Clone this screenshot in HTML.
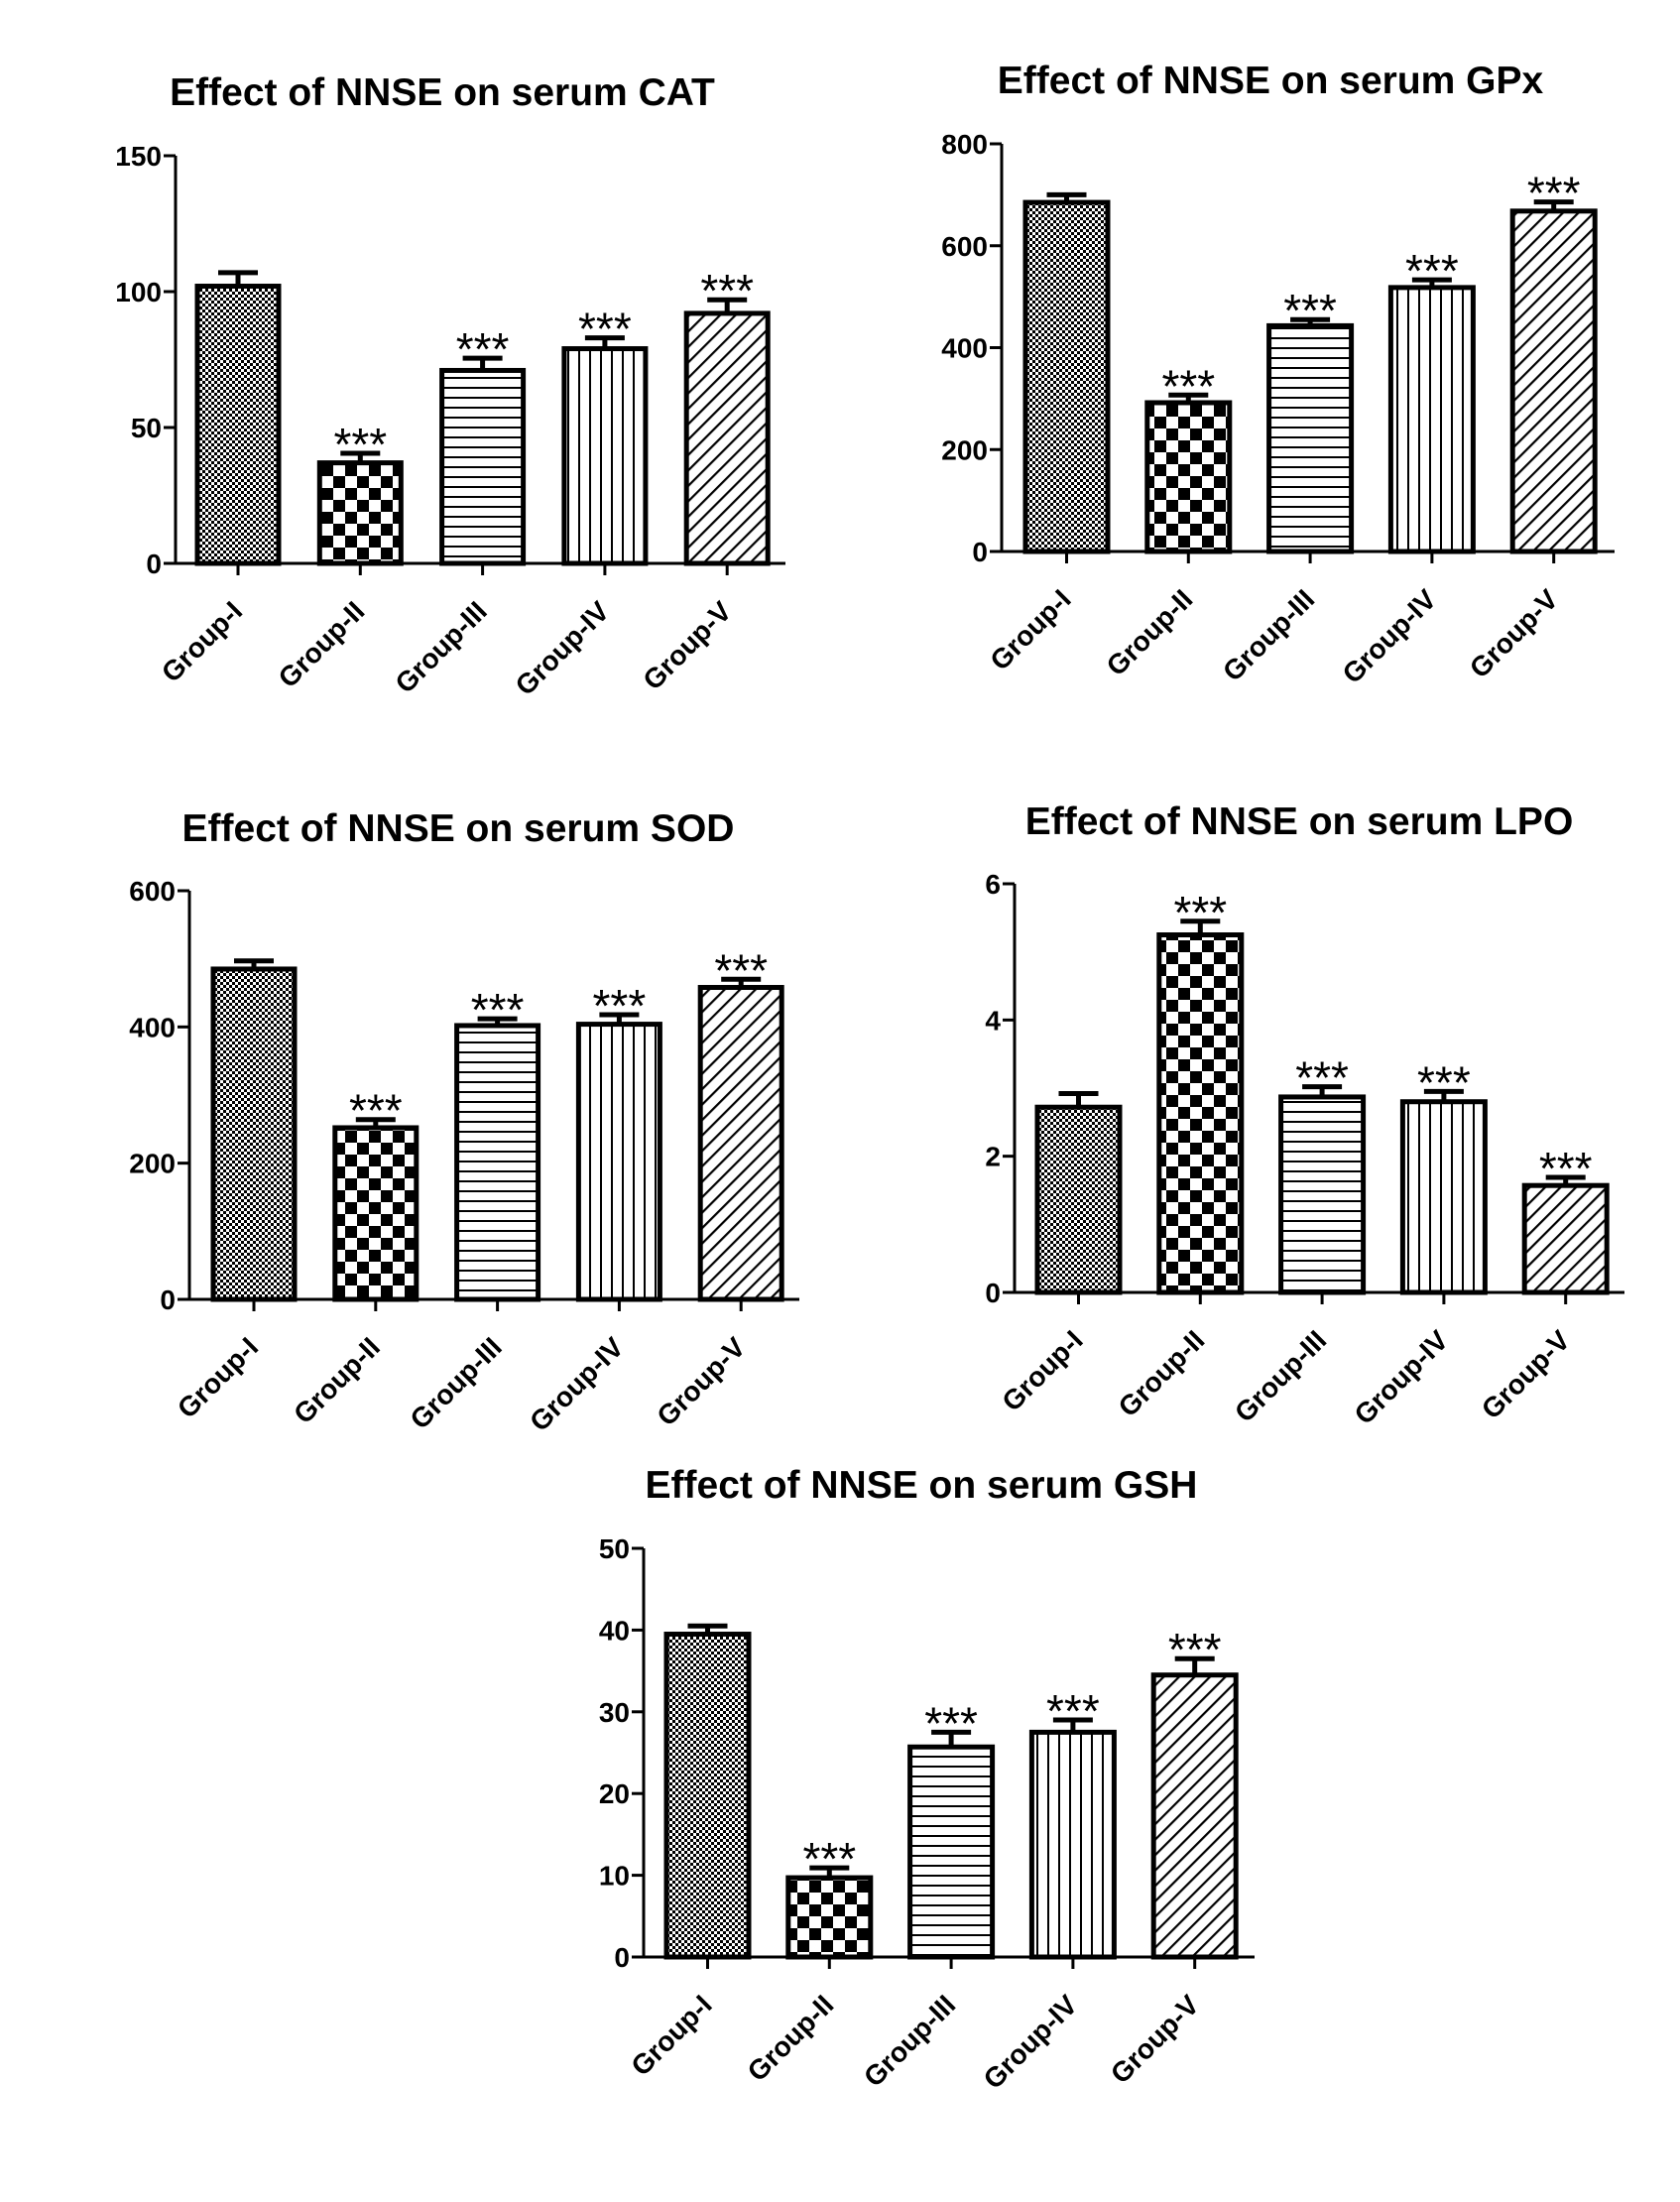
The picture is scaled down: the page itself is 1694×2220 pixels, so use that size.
<!DOCTYPE html>
<html><head><meta charset="utf-8"><style>
html,body{margin:0;padding:0;background:#fff;}
svg{display:block;font-family:"Liberation Sans",Arial,sans-serif;}
</style></head><body>
<svg id="fig" width="1694" height="2220" viewBox="0 0 1694 2220" xmlns="http://www.w3.org/2000/svg">
<defs>
<pattern id="p1" width="6" height="6" patternUnits="userSpaceOnUse"><rect width="6" height="6" fill="#fff"/><rect width="3" height="3" fill="#000"/><rect x="3" y="3" width="3" height="3" fill="#000"/></pattern>
<pattern id="p2" width="24" height="24" patternUnits="userSpaceOnUse"><rect width="24" height="24" fill="#fff"/><rect width="12" height="12" fill="#000"/><rect x="12" y="12" width="12" height="12" fill="#000"/></pattern>
<pattern id="p3" width="10" height="10" patternUnits="userSpaceOnUse"><rect width="10" height="10" fill="#fff"/><rect y="0" width="10" height="2" fill="#000"/></pattern>
<pattern id="p4" width="11" height="10" patternUnits="userSpaceOnUse"><rect width="11" height="10" fill="#fff"/><rect x="0" width="2" height="10" fill="#000"/></pattern>
<pattern id="p5" width="11" height="11" patternUnits="userSpaceOnUse" patternTransform="rotate(45)"><rect width="11" height="11" fill="#fff"/><rect width="2.2" height="11" fill="#000"/></pattern>
</defs>
</svg>
<script>
const categories = ["Group-I","Group-II","Group-III","Group-IV","Group-V"];
const catValues = [102, 37, 71, 79, 92];
const catErrors = [5, 3.5, 4.5, 4, 5];
const catTicks = [0, 50, 100, 150];
const gpxValues = [685, 292, 443, 518, 668];
const gpxErrors = [15, 15, 12, 15, 18];
const gpxTicks = [0, 200, 400, 600, 800];
const sodValues = [485, 252, 402, 404, 458];
const sodErrors = [12, 12, 10, 14, 12];
const sodTicks = [0, 200, 400, 600];
const lpoValues = [2.72, 5.25, 2.87, 2.8, 1.57];
const lpoErrors = [0.2, 0.2, 0.15, 0.15, 0.12];
const lpoTicks = [0, 2, 4, 6];
const gshValues = [39.5, 9.7, 25.7, 27.5, 34.5];
const gshErrors = [1, 1.2, 1.8, 1.5, 2];
const gshTicks = [0, 10, 20, 30, 40, 50];
const sigMarks = ["", "***", "***", "***", "***"];

const NS = "http://www.w3.org/2000/svg";
const svg = document.getElementById("fig");
function mk(tag, attrs, parent, text){
  const e = document.createElementNS(NS, tag);
  for (const k in attrs) e.setAttribute(k, attrs[k]);
  if (text !== undefined) e.textContent = text;
  parent.appendChild(e);
  return e;
}
function chart(key, title, values, errors, ticks, L){
  const g = mk("g", {}, svg);
  
  
  const maxV = ticks[ticks.length-1];
  const y = v => L.y0 - (v / maxV) * (L.y0 - L.yTop);
  const t = mk("text", {x:L.tx, y:L.ty, "text-anchor":"middle", "font-size":39, "font-weight":"bold"}, g, title);
  
  
  values.forEach((v, i) => {
    const bx = L.b0 + i * L.pitch;
    const cx = bx + L.bw/2;
    const ey = y(v + errors[i]);
    const eb = mk("path", {d:`M${cx} ${y(v)}V${ey}M${cx-20} ${ey}H${cx+20}`, stroke:"#000", "stroke-width":5, fill:"none"}, g);
    
    
    const r = mk("rect", {x:bx, y:y(v), width:L.bw, height:L.y0 - y(v), fill:`url(#p${i+1})`, stroke:"#000", "stroke-width":5}, g);
    
    
    if (sigMarks[i]) {
      const s = mk("text", {x:cx, y:ey + 7, "text-anchor":"middle", "font-size":46}, g, sigMarks[i]);
      
      
    }
    mk("line", {x1:cx, x2:cx, y1:L.y0, y2:L.y0+12, stroke:"#000", "stroke-width":3}, g);
    const lx = cx + 6, ly = L.y0 + 50;
    const lb = mk("text", {x:lx, y:ly, "text-anchor":"end", "font-size":28, "font-weight":"bold", transform:`rotate(-45 ${lx} ${ly})`}, g, categories[i]);
    
    
  });
  const ax = mk("path", {d:`M${L.ax} ${L.yTop}V${L.y0}H${L.xEnd}`, stroke:"#000", "stroke-width":3, fill:"none"}, g);
  
  
  ticks.forEach(tv => {
    mk("line", {x1:L.ax-12, x2:L.ax, y1:y(tv), y2:y(tv), stroke:"#000", "stroke-width":3}, g);
    const tl = mk("text", {x:L.ax-14, y:y(tv)+10, "text-anchor":"end", "font-size":28, "font-weight":"bold"}, g, String(tv));
    
    
  });
}
chart("cat", "Effect of NNSE on serum CAT", catValues, catErrors, catTicks,
  {ax:177, y0:568, yTop:157, xEnd:792, b0:199, bw:82, pitch:123.3, tx:446, ty:106});
chart("gpx", "Effect of NNSE on serum GPx", gpxValues, gpxErrors, gpxTicks,
  {ax:1010, y0:556, yTop:145, xEnd:1628, b0:1034, bw:83, pitch:122.8, tx:1281, ty:94});
chart("sod", "Effect of NNSE on serum SOD", sodValues, sodErrors, sodTicks,
  {ax:191, y0:1310, yTop:898, xEnd:806, b0:215, bw:82, pitch:122.8, tx:462, ty:848});
chart("lpo", "Effect of NNSE on serum LPO", lpoValues, lpoErrors, lpoTicks,
  {ax:1023, y0:1303, yTop:891, xEnd:1638, b0:1046, bw:83, pitch:122.8, tx:1310, ty:841});
chart("gsh", "Effect of NNSE on serum GSH", gshValues, gshErrors, gshTicks,
  {ax:649, y0:1973, yTop:1561, xEnd:1265, b0:672, bw:83, pitch:122.8, tx:929, ty:1510});
</script>
</body></html>
